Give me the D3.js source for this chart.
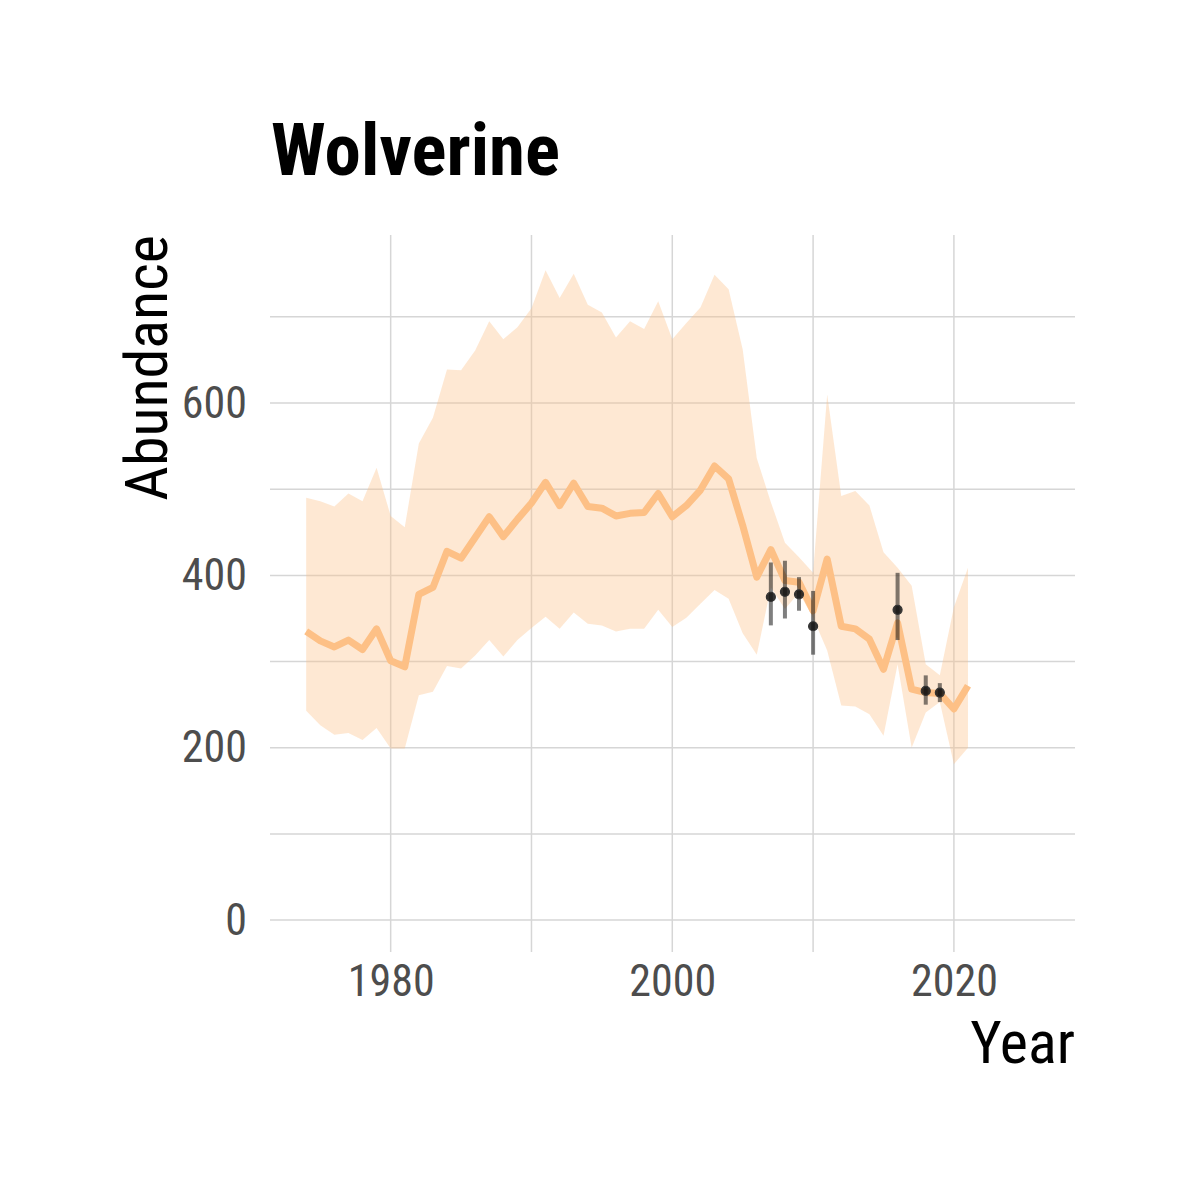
<!DOCTYPE html>
<html lang="en">
    <head>
        <meta charset="utf-8">
        <title>Wolverine</title>
        <script src="https://cdn.jsdelivr.net/npm/d3@7/dist/d3.min.js"></script>
        <style type="text/css">
            body { margin: 0; background: white; }
            text {
                font-family: "Liberation Sans Narrow", "Roboto Condensed", "Arial Narrow", "DejaVu Sans Condensed", sans-serif;
            }
            .axis text {
                font-size: 44px;
                fill: #4d4d4d;
            }
            .axis path, .axis line { display: none; }
            .grid line {
                stroke: #d6d6d6;
                stroke-width: 1.5px;
            }
        </style>
    </head>
    <body>
        <script type="text/javascript">

            var years = [1974, 1975, 1976, 1977, 1978, 1979, 1980, 1981, 1982, 1983, 1984, 1985,
                         1986, 1987, 1988, 1989, 1990, 1991, 1992, 1993, 1994, 1995, 1996, 1997,
                         1998, 1999, 2000, 2001, 2002, 2003, 2004, 2005, 2006, 2007, 2008, 2009,
                         2010, 2011, 2012, 2013, 2014, 2015, 2016, 2017, 2018, 2019, 2020, 2021];
            var estimate = [335, 324, 317, 325, 314, 338, 301, 294, 378, 386, 428, 420,
                            444, 468, 445, 465, 484, 508, 481, 507, 480, 478, 469, 472,
                            473, 495, 468, 481, 499, 527, 512, 458, 398, 430, 394, 392,
                            359, 419, 341, 338, 326, 291, 345, 268, 264, 263, 245, 272];
            var upper = [490, 486, 480, 495, 486, 525, 469, 456, 553, 583, 639, 638,
                         661, 695, 674, 688, 710, 754, 722, 750, 714, 705, 676, 695,
                         686, 718, 674, 693, 711, 749, 732, 662, 536, 485, 438, 421,
                         403, 610, 492, 498, 481, 427, 409, 388, 297, 284, 363, 409];
            var lower = [243, 226, 215, 217, 209, 223, 199, 199, 261, 265, 295, 292,
                         307, 325, 306, 325, 339, 352, 338, 357, 344, 342, 335, 338,
                         338, 360, 340, 351, 367, 383, 373, 333, 308, 386, 361, 380,
                         351, 313, 249, 248, 239, 214, 297, 200, 241, 253, 181, 200];

            // survey counts with their intervals
            var obsYears = [2007, 2008, 2009, 2010, 2016, 2018, 2019];
            var obsValues = [375, 381, 378, 341, 360, 266, 264];
            var obsLow = [342, 350, 359, 308, 325, 250, 253];
            var obsHigh = [415, 417, 398, 382, 403, 284, 275];

            var xMajor = [1980, 2000, 2020];
            var xMinor = [1990, 2010];
            var yMajor = [0, 200, 400, 600];
            var yMinor = [100, 300, 500, 700];

            var w = 1200;
            var h = 1200;
            var padLeft = 270, padRight = 1075, padTop = 235, padBottom = 952;

            var svg = d3.select("body")
                .append("svg")
                .attr("width", w)
                .attr("height", h);

            var xScale = d3.scaleLinear()
                .domain([1971.43, 2028.6])
                .range([padLeft, padRight]);
            var yScale = d3.scaleLinear()
                .domain([-37, 795])
                .range([padBottom, padTop]);

            var grid = svg.append("g").attr("class", "grid");
            grid.selectAll("line.h")
                .data(yMajor.concat(yMinor))
                .enter()
                .append("line")
                .attr("class", "h")
                .attr("x1", padLeft)
                .attr("x2", padRight)
                .attr("y1", function(d) { return yScale(d); })
                .attr("y2", function(d) { return yScale(d); });
            grid.selectAll("line.v")
                .data(xMajor.concat(xMinor))
                .enter()
                .append("line")
                .attr("class", "v")
                .attr("y1", padTop)
                .attr("y2", padBottom)
                .attr("x1", function(d) { return xScale(d); })
                .attr("x2", function(d) { return xScale(d); });

            var series = years.map(function(y, i) {
                return { year: y, est: estimate[i], lo: lower[i], hi: upper[i] };
            });

            var area = d3.area()
                .x(function(d) { return xScale(d.year); })
                .y0(function(d) { return yScale(d.lo); })
                .y1(function(d) { return yScale(d.hi); });
            svg.append("path")
                .datum(series)
                .attr("d", area)
                .attr("fill", "#fdc086")
                .attr("fill-opacity", 0.36);

            var line = d3.line()
                .x(function(d) { return xScale(d.year); })
                .y(function(d) { return yScale(d.est); });
            svg.append("path")
                .datum(series)
                .attr("d", line)
                .attr("fill", "none")
                .attr("stroke", "#fdc086")
                .attr("stroke-width", 7)
                .attr("stroke-linejoin", "round");

            var obs = obsYears.map(function(y, i) {
                return { year: y, val: obsValues[i], lo: obsLow[i], hi: obsHigh[i] };
            });
            svg.selectAll("line.err")
                .data(obs)
                .enter()
                .append("line")
                .attr("class", "err")
                .attr("x1", function(d) { return xScale(d.year); })
                .attr("x2", function(d) { return xScale(d.year); })
                .attr("y1", function(d) { return yScale(d.lo); })
                .attr("y2", function(d) { return yScale(d.hi); })
                .attr("stroke", "black")
                .attr("stroke-opacity", 0.5)
                .attr("stroke-width", 4);
            svg.selectAll("circle.obs")
                .data(obs)
                .enter()
                .append("circle")
                .attr("class", "obs")
                .attr("cx", function(d) { return xScale(d.year); })
                .attr("cy", function(d) { return yScale(d.val); })
                .attr("r", 4.5)
                .attr("fill", "#111")
                .attr("fill-opacity", 0.85)
                .attr("stroke", "#333")
                .attr("stroke-width", 1.2);

            var xAxis = d3.axisBottom(xScale)
                .tickValues(xMajor)
                .tickFormat(d3.format("d"))
                .tickSize(0)
                .tickPadding(13);
            var yAxis = d3.axisLeft(yScale)
                .tickValues(yMajor)
                .tickSize(0)
                .tickPadding(23);
            svg.append("g")
                .attr("class", "axis")
                .attr("transform", "translate(0," + padBottom + ")")
                .call(xAxis);
            svg.append("g")
                .attr("class", "axis")
                .attr("transform", "translate(" + padLeft + ",0)")
                .call(yAxis);

            svg.append("text")
                .attr("x", 271)
                .attr("y", 175)
                .style("font-size", "73px")
                .style("font-weight", "bold")
                .attr("fill", "black")
                .text("Wolverine");
            svg.append("text")
                .attr("transform", "translate(167," + padTop + ") rotate(-90)")
                .attr("text-anchor", "end")
                .style("font-size", "60px")
                .attr("fill", "black")
                .text("Abundance");
            svg.append("text")
                .attr("x", padRight)
                .attr("y", 1063)
                .attr("text-anchor", "end")
                .style("font-size", "60px")
                .attr("fill", "black")
                .text("Year");

        </script>
    </body>
</html>
